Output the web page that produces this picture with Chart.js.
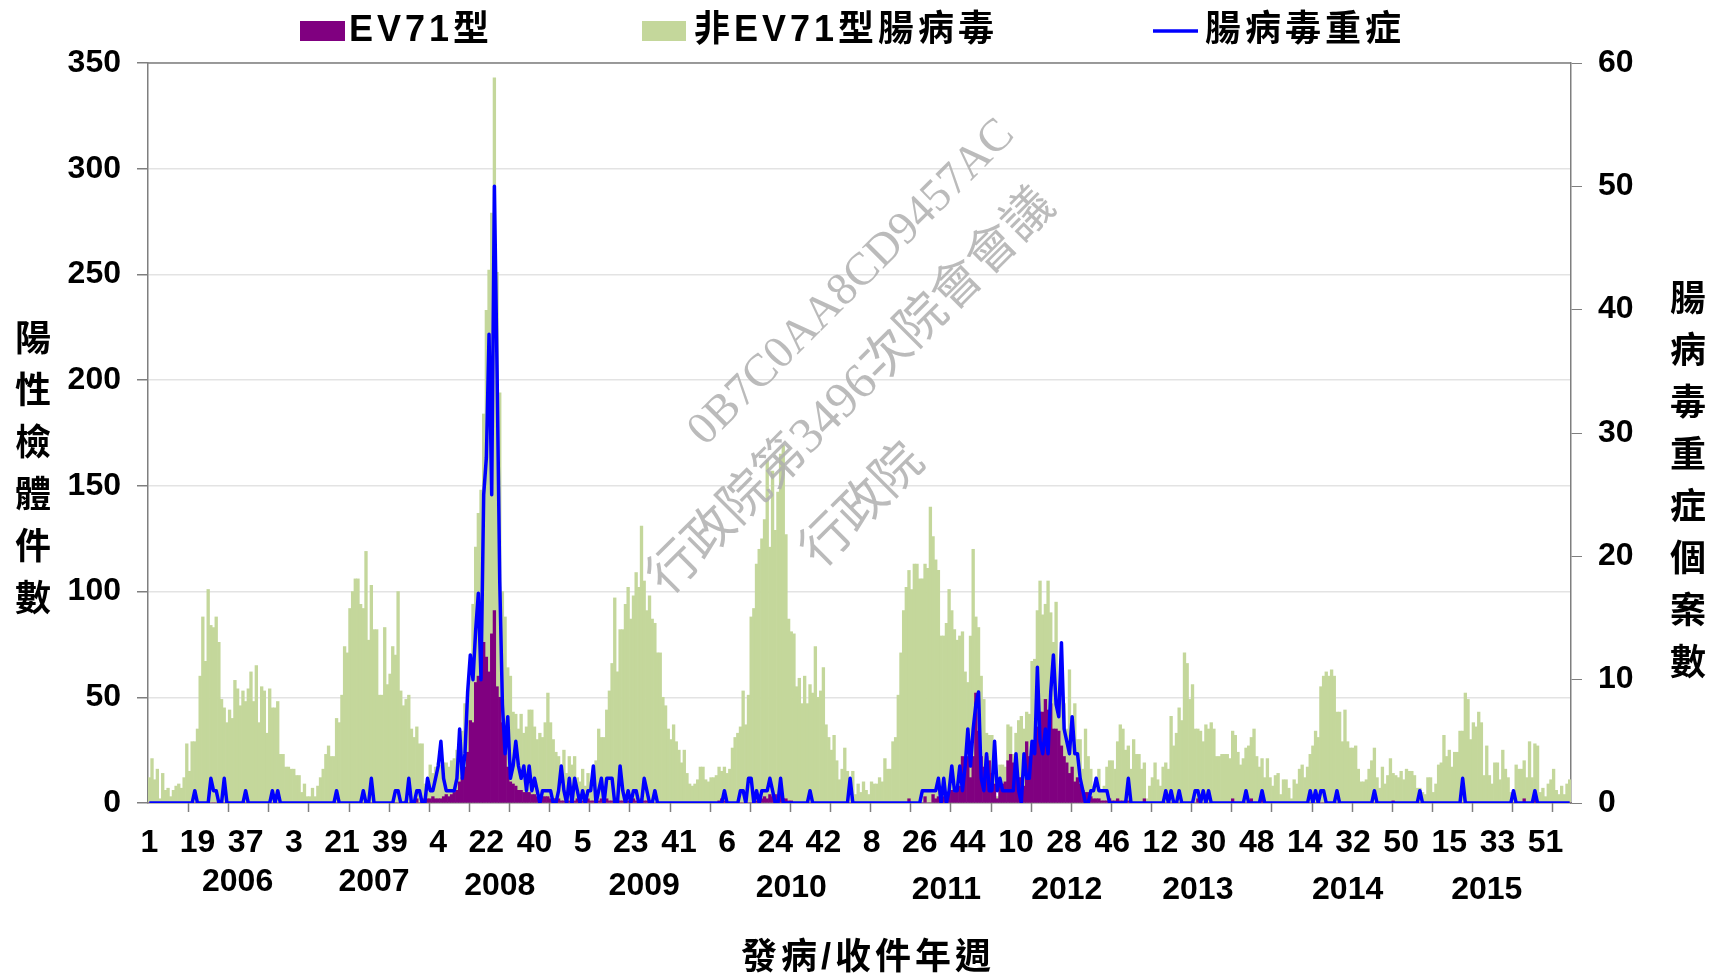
<!DOCTYPE html>
<html>
<head>
<meta charset="utf-8">
<script src="https://cdn.jsdelivr.net/npm/chart.js@4.4.1/dist/chart.umd.min.js"></script>
<style>
  html, body { margin: 0; padding: 0; background: #fff; }
  #wrap { position: relative; width: 1711px; height: 973px; }
</style>
</head>
<body>
<div id="wrap"><canvas id="evChart"></canvas></div>
<script>
// weeks per year on the x axis (2016 only has the first few weeks)
const years = [2006, 2007, 2008, 2009, 2010, 2011, 2012, 2013, 2014, 2015, 2016];
const weeksPerYear = [52, 53, 53, 53, 52, 52, 52, 52, 53, 53, 7];

// EV71 positive specimens per week
const ev2006 = [0,0,0,0,0,0,0,0,0,0,0,0,0,0,0,0,0,0,0,0,0,0,0,0,0,0,0,0,0,0,0,0,0,0,0,0,0,0,0,0,0,0,0,0,0,0,0,0,0,0,0,0];
const ev2007 = [0,0,0,0,0,0,0,0,0,0,0,0,0,0,0,0,0,0,0,0,0,0,0,0,0,0,0,0,0,0,0,0,0,0,0,0,0,0,0,0,0,0,0,0,1,0,1,0,2,0,1,2,2];
const ev2008 = [2,3,2,2,2,3,4,3,4,5,6,10,12,17,24,39,38,57,60,60,76,69,62,80,91,55,50,38,25,17,10,9,8,6,6,5,5,5,4,4,3,3,3,3,3,2,2,2,2,1,1,1,1];
const ev2009 = [2,1,2,1,1,1,2,1,1,2,1,2,1,2,1,1,2,2,1,1,2,1,1,2,1,1,2,1,1,1,1,0,0,0,0,0,0,0,0,0,0,0,0,0,0,0,0,0,0,0,0,0,0];
const ev2010 = [0,0,1,2,1,0,0,0,0,0,0,0,0,0,0,0,1,1,2,3,2,4,3,4,3,4,2,2,1,1,0,0,0,0,0,0,0,0,0,0,0,0,0,0,0,0,0,0,0,0,0,0];
const ev2011 = [0,0,0,0,0,0,0,0,0,0,0,0,0,0,0,0,0,0,0,0,0,2,0,0,0,0,0,3,0,0,4,2,3,4,3,5,5,6,5,6,8,22,20,22,12,22,52,34,22,17,22,20];
const ev2012 = [14,9,2,8,9,10,20,23,19,14,12,12,8,29,22,27,26,36,43,43,49,44,47,35,35,34,27,22,19,14,17,10,12,9,6,5,5,3,2,2,2,1,1,1,2,1,1,2,1,1,1,1];
const ev2013 = [0,0,0,0,0,2,0,0,0,0,0,0,0,0,0,0,0,0,0,0,0,0,0,0,0,2,0,0,0,0,0,0,0,0,0,0,0,0,2,0,0,0,0,0,0,2,0,0,0,2,0,0];
const ev2014 = [0,0,0,0,0,0,0,0,0,0,0,0,0,0,0,0,0,0,0,0,0,0,0,0,0,0,0,0,0,0,0,0,0,0,0,0,0,0,0,0,0,0,0,0,0,0,1,0,0,0,0,0,0];
const ev2015 = [0,0,0,0,0,0,0,0,0,0,0,0,0,0,0,0,0,0,0,0,0,0,0,0,0,0,0,0,0,0,0,0,0,0,0,0,0,0,0,0,0,0,2,0,0,0,5,0,0,0,0,0,0,0,0,0,0,0,0,0];

// non-EV71 enterovirus positive specimens per week
const non2006 = [12,21,11,16,2,14,6,7,3,6,8,9,7,12,28,15,29,29,35,60,88,67,101,84,83,88,76,49,45,38,44,40,58,54,46,53,48,54,62,48,65,38,55,53,33,54,45,45,48,23,23,17];
const non2007 = [17,16,16,13,13,5,9,3,3,7,3,8,12,16,23,27,22,22,40,38,51,74,71,92,100,106,106,94,92,119,77,103,82,82,51,51,83,56,61,74,70,100,53,46,48,51,34,31,34,28,27,7,3];
const non2008 = [16,11,15,17,16,16,15,14,16,16,19,18,22,30,29,27,56,64,77,88,108,164,190,199,252,196,144,62,63,47,50,34,34,29,36,28,31,39,40,32,27,30,28,35,49,36,28,22,20,17,24,13,21];
const non2009 = [16,21,10,9,15,7,12,9,11,18,34,29,30,42,52,65,95,60,81,81,92,101,86,96,108,101,129,104,90,97,86,85,71,71,50,46,35,30,37,29,25,19,25,14,9,8,9,11,17,17,11,10,12];
const non2010 = [12,13,16,13,16,14,16,26,31,33,36,53,37,51,88,92,112,119,123,131,160,117,154,125,144,161,167,125,86,80,80,55,59,47,60,47,56,52,74,50,53,64,37,31,25,32,20,11,16,26,15,9];
const non2011 = [15,4,9,5,10,6,4,10,9,9,12,10,21,16,16,29,31,51,71,91,102,108,101,113,113,106,106,110,111,140,122,113,107,75,76,80,96,85,77,71,71,59,42,35,67,98,36,49,38,32,11,12];
const non2012 = [18,18,1,10,9,7,17,13,4,19,27,29,27,14,20,40,42,55,62,46,45,61,43,41,60,12,26,25,16,49,19,37,18,21,10,30,17,13,6,10,14,4,7,16,18,19,15,27,36,34,24,26];
const non2013 = [16,30,23,23,16,17,2,8,12,19,11,8,17,19,16,41,27,33,45,39,71,66,49,56,35,33,34,29,37,35,38,35,22,22,23,23,23,21,32,32,24,18,21,26,27,29,35,22,17,19,12,21];
const non2014 = [12,8,13,14,4,11,11,7,2,11,9,16,18,12,17,23,27,34,31,55,60,62,60,63,60,43,43,29,44,29,26,26,27,16,10,10,11,16,20,26,12,7,17,9,13,21,13,13,12,15,11,16,15];
const non2015 = [15,13,7,7,5,4,12,12,5,9,18,19,32,22,25,17,24,24,34,34,52,49,30,38,36,43,38,13,27,13,9,19,19,11,25,16,12,5,4,18,16,16,18,12,29,12,23,27,5,7,3,9,11,16,6,4,8,4,9,11];

// severe enterovirus cases per week (right axis)
const sev2006 = [0,0,0,0,0,0,0,0,0,0,0,0,0,0,0,0,0,1,0,0,0,0,0,2,1,1,0,0,2,0,0,0,0,0,0,0,1,0,0,0,0,0,0,0,0,0,1,0,1,0,0,0];
const sev2007 = [0,0,0,0,0,0,0,0,0,0,0,0,0,0,0,0,0,0,1,0,0,0,0,0,0,0,0,0,1,0,0,2,0,0,0,0,0,0,0,0,1,1,0,0,0,2,0,0,1,1,0,0,2];
const sev2008 = [1,1,2,3,5,2,1,1,1,1,2,6,2,4,9,12,10,14,17,10,25,28,38,25,50,35,18,8,4,7,2,3,5,3,2,3,1,3,1,2,1,0,1,1,1,1,0,0,1,3,1,0,2];
const sev2009 = [0,2,1,0,1,0,1,1,3,0,1,2,0,2,2,2,0,0,3,1,0,1,0,1,1,0,0,2,1,0,0,1,0,0,0,0,0,0,0,0,0,0,0,0,0,0,0,0,0,0,0,0,0];
const sev2010 = [0,0,0,0,1,0,0,0,0,0,1,1,0,2,2,0,1,0,1,1,1,2,1,0,0,2,0,0,0,0,0,0,0,0,0,0,1,0,0,0,0,0,0,0,0,0,0,0,0,0,0,2];
const sev2011 = [0,0,0,0,0,0,0,0,0,0,0,0,0,0,0,0,0,0,0,0,0,0,0,0,0,0,1,1,1,1,1,1,2,0,2,0,1,3,1,1,3,1,3,6,3,6,8,9,2,1,4,1];
const sev2012 = [1,5,1,2,1,1,1,1,1,4,1,0,4,2,2,5,4,11,5,4,6,4,9,12,8,7,13,6,5,4,7,4,4,2,1,0,0,1,1,2,1,1,1,1,0,0,0,0,0,0,0,2];
const sev2013 = [0,0,0,0,0,0,0,0,0,0,0,0,0,1,0,1,0,0,1,0,0,0,0,0,1,1,0,1,0,1,0,0,0,0,0,0,0,0,0,0,0,0,0,1,0,0,0,0,0,1,0,0];
const sev2014 = [0,0,0,0,0,0,0,0,0,0,0,0,0,0,0,1,0,1,0,1,1,0,0,0,0,1,0,0,0,0,0,0,0,0,0,0,0,0,0,1,0,0,0,0,0,0,0,0,0,0,0,0,0];
const sev2015 = [0,0,0,1,0,0,0,0,0,0,0,0,0,0,0,0,0,0,0,2,0,0,0,0,0,0,0,0,0,0,0,0,0,0,0,0,0,0,1,0,0,0,0,0,0,0,1,0,0,0,0,0,0,0,0,0,0,0,0,0];

// where each year caption sits under the axis (week index) and its row
const yearLabelAt = [33, 84, 131, 185, 240, 298, 343, 392, 448, 500];
const yearLabelY = [882, 882, 886, 886, 888, 890, 890, 890, 890, 890];

const ev71 = [].concat(ev2006, ev2007, ev2008, ev2009, ev2010, ev2011, ev2012, ev2013, ev2014, ev2015);
const nonEv71 = [].concat(non2006, non2007, non2008, non2009, non2010, non2011, non2012, non2013, non2014, non2015);
const severe = [].concat(sev2006, sev2007, sev2008, sev2009, sev2010, sev2011, sev2012, sev2013, sev2014, sev2015);

const weekLabels = [];
weeksPerYear.forEach((n) => {
    for (let w = 1; w <= n; w++) weekLabels.push(String(w));
});

const LATIN = '"Liberation Sans", Arial, sans-serif';
const CJK = '"Liberation Sans", "Noto Sans CJK TC", sans-serif';

const decorPlugin = {
    id: 'decor',
    afterDraw(chart) {
        const { ctx, chartArea: a } = chart;
        const x = chart.scales.x;
        ctx.save();

        // top frame line
        ctx.strokeStyle = '#7f7f7f';
        ctx.lineWidth = 1.5;
        ctx.beginPath();
        ctx.moveTo(a.left, a.top);
        ctx.lineTo(a.right, a.top);
        ctx.stroke();

        // x tick marks every 15 weeks, on the category boundary
        const step = x.getPixelForValue(1) - x.getPixelForValue(0);
        ctx.beginPath();
        for (let k = 15; k < weekLabels.length; k += 15) {
            const px = Math.round(x.getPixelForValue(k) - step / 2) + 0.5;
            ctx.moveTo(px, a.bottom);
            ctx.lineTo(px, a.bottom + 9);
        }
        ctx.stroke();

        // year captions
        ctx.fillStyle = '#000';
        ctx.font = 'bold 32px ' + LATIN;
        ctx.textAlign = 'center';
        ctx.textBaseline = 'middle';
        yearLabelAt.forEach((idx, i) => {
            ctx.fillText(String(years[i]), x.getPixelForValue(idx), yearLabelY[i]);
        });

        // axis titles
        ctx.font = 'bold 36px ' + CJK;
        '陽性檢體件數'.split('').forEach((ch, i) => ctx.fillText(ch, 33, 341 + i * 52));
        '腸病毒重症個案數'.split('').forEach((ch, i) => ctx.fillText(ch, 1688, 301 + i * 52));
        ctx.letterSpacing = '4px';
        ctx.fillText('發病/收件年週', 868, 959);

        // legend
        ctx.textAlign = 'left';
        ctx.fillStyle = '#800080';
        ctx.fillRect(300, 21, 45, 20);
        ctx.fillStyle = '#c4d79b';
        ctx.fillRect(642, 21, 44, 20);
        ctx.strokeStyle = '#0000ff';
        ctx.lineWidth = 3.5;
        ctx.beginPath();
        ctx.moveTo(1153, 31);
        ctx.lineTo(1198, 31);
        ctx.stroke();
        ctx.fillStyle = '#000';
        ctx.fillText('EV71型', 349, 31);
        ctx.fillText('非EV71型腸病毒', 694, 31);
        ctx.fillText('腸病毒重症', 1205, 31);
        ctx.letterSpacing = '0px';

        // watermark
        ctx.fillStyle = 'rgba(175,175,175,0.85)';
        ctx.textAlign = 'center';
        const marks = [
            ['0B7C0AA8CD9457AC', 852, 283, '46px "Liberation Serif", serif'],
            ['行政院第3496次院會會議', 853, 393, '50px "Liberation Serif", "Noto Sans CJK TC", serif'],
            ['行政院', 860, 503, '50px "Noto Sans CJK TC", serif']
        ];
        marks.forEach(([txt, cx, cy, f]) => {
            ctx.save();
            ctx.translate(cx, cy);
            ctx.rotate(-Math.PI / 4);
            ctx.font = f;
            ctx.fillText(txt, 0, 0);
            ctx.restore();
        });

        ctx.restore();
    }
};

const tickFont = { family: LATIN, size: 32, weight: 'bold' };

new Chart(document.getElementById('evChart'), {
    type: 'bar',
    data: {
        labels: weekLabels,
        datasets: [
            {
                type: 'line',
                label: '腸病毒重症',
                data: severe,
                yAxisID: 'y1',
                borderColor: '#0000ff',
                borderWidth: 3.5,
                pointRadius: 0,
                tension: 0,
                borderJoinStyle: 'round',
                order: 0
            },
            {
                label: 'EV71型',
                data: ev71,
                yAxisID: 'y',
                backgroundColor: '#800080',
                barPercentage: 1,
                categoryPercentage: 1,
                borderWidth: 0,
                order: 1
            },
            {
                label: '非EV71型腸病毒',
                data: nonEv71,
                yAxisID: 'y',
                backgroundColor: '#c4d79b',
                barPercentage: 1,
                categoryPercentage: 1,
                borderWidth: 0,
                order: 1
            }
        ]
    },
    options: {
        responsive: true,
        maintainAspectRatio: false,
        animation: false,
        layout: { padding: { top: 63, left: 0, right: 0, bottom: 0 } },
        plugins: {
            legend: { display: false },
            tooltip: { enabled: false }
        },
        scales: {
            x: {
                stacked: true,
                grid: { display: false, drawTicks: false },
                border: { display: true, color: '#7f7f7f', width: 1.5 },
                ticks: {
                    autoSkip: false,
                    maxRotation: 0,
                    minRotation: 0,
                    padding: 21,
                    color: '#000',
                    font: tickFont
                },
                afterBuildTicks(scale) {
                    scale.ticks = scale.ticks.filter(t => t.value % 18 === 0);
                },
                afterFit(scale) { scale.height = 170; }
            },
            y: {
                stacked: true,
                min: 0,
                max: 350,
                ticks: { stepSize: 50, padding: 16, color: '#000', font: tickFont },
                grid: { color: '#e3e3e3', lineWidth: 1.5, tickLength: 11, tickColor: '#7f7f7f' },
                border: { color: '#7f7f7f', width: 1.5 },
                afterFit(scale) { scale.width = 148; }
            },
            y1: {
                position: 'right',
                min: 0,
                max: 60,
                ticks: { stepSize: 10, padding: 16, color: '#000', font: tickFont },
                grid: { drawOnChartArea: false, tickLength: 11, tickColor: '#7f7f7f' },
                border: { color: '#7f7f7f', width: 1.5 },
                afterFit(scale) { scale.width = 140; }
            }
        }
    },
    plugins: [decorPlugin]
});
</script>
</body>
</html>
